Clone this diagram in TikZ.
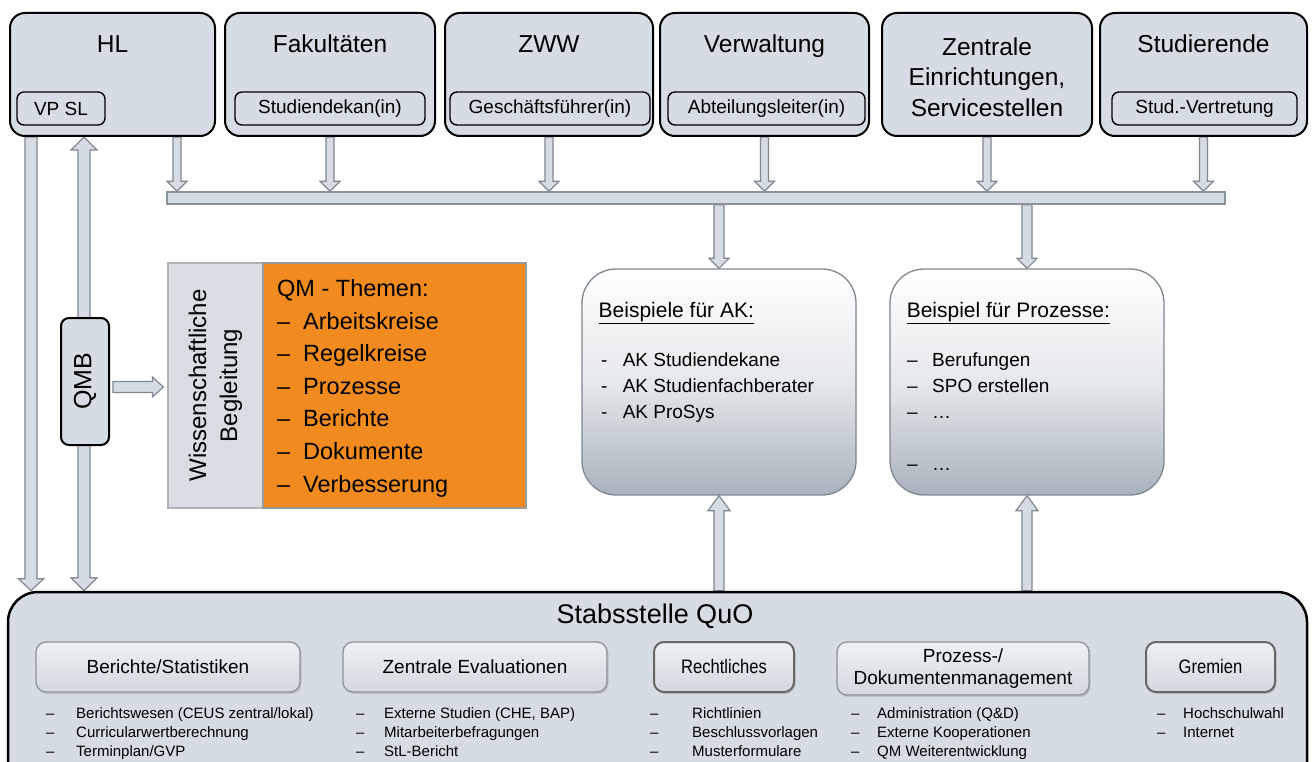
\documentclass[tikz,border=0pt]{standalone}
\usepackage{fontspec}
\setmainfont{Liberation Sans}
\newfontfamily\narrowf[FakeStretch=0.85]{Liberation Sans}
\usetikzlibrary{calc,shadows}
\pgfdeclarelayer{back}
\pgfdeclarelayer{bg}
\pgfsetlayers{back,bg,main}
\definecolor{boxfill}{HTML}{D6DCE3}
\definecolor{arrfill}{HTML}{D5DCE4}
\definecolor{arrline}{HTML}{7F8790}
\definecolor{orangeq}{HTML}{F28B1F}
\definecolor{wissfill}{HTML}{D8DDE3}
\definecolor{akbot}{HTML}{A9B2BD}
\definecolor{subline}{HTML}{8A929A}
\definecolor{subtop}{HTML}{EEF1F4}
\definecolor{subbot}{HTML}{D2D8DF}
\newcommand\fs[2]{\fontsize{#1}{#2}\selectfont}
% block arrow from #1 to #2: shaft half width #3, head half width #4, head length #5
\newcommand\barrow[5]{%
 \coordinate (bac) at ($(#2)!#5!(#1)$);
 \filldraw[blockarrow] ($(#1)!#3!-90:(#2)$) -- ($(bac)!#3!-90:(#2)$) -- ($(bac)!#4!-90:(#2)$) -- (#2) -- ($(bac)!#4!90:(#2)$) -- ($(bac)!#3!90:(#2)$) -- ($(#1)!#3!90:(#2)$) -- cycle;}
\newcommand\dbarrow[5]{%
 \coordinate (bac1) at ($(#1)!#5!(#2)$);
 \coordinate (bac2) at ($(#2)!#5!(#1)$);
 \filldraw[blockarrow] (#1) -- ($(bac1)!#4!90:(#2)$) -- ($(bac1)!#3!90:(#2)$) -- ($(bac2)!#3!90:(#2)$) -- ($(bac2)!#4!90:(#2)$) -- (#2) -- ($(bac2)!#4!-90:(#2)$) -- ($(bac2)!#3!-90:(#2)$) -- ($(bac1)!#3!-90:(#2)$) -- ($(bac1)!#4!-90:(#2)$) -- cycle;}
\tikzset{
 topbox/.style={draw=black, line width=2pt, fill=boxfill, rounded corners=15pt, inner sep=0pt, minimum height=123pt},
 subbox/.style={draw=black, line width=1.4pt, fill=boxfill, rounded corners=7pt, inner sep=0pt, minimum height=33pt, font=\fs{19}{22}},
 ttl/.style={anchor=base, inner sep=0pt, font=\fs{24.5}{30.5}},
 blockarrow/.style={draw=arrline, fill=arrfill, line width=1.2pt, line join=miter},
 barbox/.style={draw=subline, fill=arrfill, line width=1.4pt, inner sep=0pt},
 akbox/.style={draw=arrline, line width=1.3pt, rounded corners=34pt, top color=white, bottom color=akbot, middle color=akbot!30!white, inner sep=0pt, minimum width=274pt, minimum height=226pt},
 stabbox/.style={draw=black, line width=2.5pt, fill=boxfill, rounded corners=30pt, inner sep=0pt},
 qsub/.style={draw=subline, line width=1.3pt, rounded corners=10pt, top color=subtop, bottom color=subbot, drop shadow={shadow xshift=1.5pt, shadow yshift=-2pt, opacity=0.3}, inner sep=0pt, minimum height=50pt, font=\fs{19}{22}, align=center},
 qsubd/.style={qsub, draw=black!60, line width=2pt, font={\narrowf\fs{19.5}{22}}},
 txt/.style={anchor=base west, inner sep=0pt},
 listtxt/.style={txt, font=\fs{15}{19.2}},
}
\begin{document}
\begin{tikzpicture}[x=1pt,y=-1pt]
\begin{pgfonlayer}{back}\fill[white] (0,0) rectangle (1315,762);\end{pgfonlayer}
\useasboundingbox (0,0) rectangle (1315,762);

% top boxes
\node[topbox,minimum width=205pt] (hl) at (112.5,74.5) {};
\node[topbox,minimum width=210pt] (fak) at (330,74.5) {};
\node[topbox,minimum width=208pt] (zww) at (549,74.5) {};
\node[topbox,minimum width=209pt] (verw) at (764.5,74.5) {};
\node[topbox,minimum width=210pt] (zen) at (987,74.5) {};
\node[topbox,minimum width=207pt] (stu) at (1203.5,74.5) {};

\node[ttl] (thl) at ($(hl.north)+(0,41)$) {HL};
\node[ttl] (tfak) at ($(fak.north)+(0,41)$) {Fakultäten};
\node[ttl] (tzww) at ($(zww.north)+(0,41)$) {ZWW};
\node[ttl] (tverw) at ($(verw.north)+(0,41)$) {Verwaltung};
\node[ttl, anchor=north, align=center] (tzen) at ($(zen.north)+(0,25.5)$) {Zentrale\\Einrichtungen,\\Servicestellen};
\node[ttl] (tstu) at ($(stu.north)+(0,41)$) {Studierende};

\node[subbox,minimum width=88pt] (vpsl) at (61,108.5) {VP SL};
\node[subbox,minimum width=190pt] (sdek) at (330,108.5) {Studiendekan(in)};
\node[subbox,minimum width=200pt] (gf) at (550,108.5) {Geschäftsführer(in)};
\node[subbox,minimum width=197pt] (abt) at (766.5,108.5) {Abteilungsleiter(in)};
\node[subbox,minimum width=185pt] (sv) at (1204.5,108.5) {Stud.-Vertretung};

% bar
\node[barbox, minimum width=1058pt, minimum height=12pt] (bar) at (696,198) {};

% middle
\node[draw=black!30, line width=1.2pt, fill=wissfill, minimum width=95pt, minimum height=245pt, inner sep=0pt] (wiss) at (215.5,385.5)
 {\rotatebox{90}{\fs{24}{31}\begin{tabular}{@{}c@{}}Wissenschaftliche\\Begleitung\end{tabular}}};
\node[draw=black!40, line width=1.2pt, fill=orangeq, minimum width=263pt, minimum height=245pt, inner sep=0pt] (qm) at (394.5,385.5) {};
\node[txt, font=\fs{23.5}{32.6}] (qmt) at (277,296.5)
 {\begin{tabular}[t]{@{}p{26pt}@{}l@{}}\multicolumn{2}{@{}l@{}}{QM - Themen:}\\
 –&Arbeitskreise\\ –&Regelkreise\\ –&Prozesse\\ –&Berichte\\ –&Dokumente\\ –&Verbesserung\end{tabular}};

\node[draw=black, line width=2pt, fill=boxfill, rounded corners=8pt, minimum width=48pt, minimum height=127pt, inner sep=0pt] (qmb) at (85,381.5)
 {\rotatebox{90}{\fs{25}{28}QMB}};

\node[akbox] (ak) at (719,382) {};
\node[akbox] (pz) at (1027,382) {};
\node[txt, font=\fs{21}{24}] (akt) at (598.5,317) {\underline{Beispiele für AK:}};
\node[txt, font=\fs{19}{25.8}] (akl) at (601,366.5)
 {\begin{tabular}[t]{@{}p{21.6pt}@{}l@{}}-&AK Studiendekane\\ -&AK Studienfachberater\\ -&AK ProSys\end{tabular}};
\node[txt, font=\fs{21}{24}] (pzt) at (906.6,317) {\underline{Beispiel für Prozesse:}};
\node[txt, font=\fs{19}{26}] (pzl) at (907,366.5)
 {\begin{tabular}[t]{@{}p{25pt}@{}l@{}}–&Berufungen\\ –&SPO erstellen\\ –&…\\ &\\ –&…\end{tabular}};

% bottom
\node[stabbox, minimum width=1299pt, minimum height=210pt] (stab) at (657.5,697) {};
\node[anchor=base, inner sep=0pt, font=\fs{27}{30}] (stabt) at ($(stab.north)+(-2.5,33)$) {Stabsstelle QuO};

\node[qsub, minimum width=264pt] (ber) at (168,667) {Berichte/Statistiken};
\node[qsub, minimum width=264pt] (zev) at (475,667) {Zentrale Evaluationen};
\node[qsubd, minimum width=140pt] (rec) at (724,667) {Rechtliches};
\node[qsub, minimum width=252pt, minimum height=53pt] (pdm) at (963,668.5) {Prozess-/\\Dokumentenmanagement};
\node[qsubd, minimum width=129pt] (gre) at (1210.5,667) {Gremien};

\node[listtxt] (l1) at (46,718)
 {\begin{tabular}[t]{@{}p{30pt}@{}l@{}}–&Berichtswesen (CEUS zentral/lokal)\\ –&Curricularwertberechnung\\ –&Terminplan/GVP\end{tabular}};
\node[listtxt] (l2) at (356,718)
 {\begin{tabular}[t]{@{}p{28pt}@{}l@{}}–&Externe Studien (CHE, BAP)\\ –&Mitarbeiterbefragungen\\ –&StL-Bericht\end{tabular}};
\node[listtxt] (l3) at (650,718)
 {\begin{tabular}[t]{@{}p{42pt}@{}l@{}}–&Richtlinien\\ –&Beschlussvorlagen\\ –&Musterformulare\end{tabular}};
\node[listtxt] (l4) at (851,718)
 {\begin{tabular}[t]{@{}p{26pt}@{}l@{}}–&Administration (Q\&D)\\ –&Externe Kooperationen\\ –&QM Weiterentwicklung\end{tabular}};
\node[listtxt] (l5) at (1157,718)
 {\begin{tabular}[t]{@{}p{26pt}@{}l@{}}–&Hochschulwahl\\ –&Internet\end{tabular}};

% connectors
\begin{pgfonlayer}{bg}
 \coordinate (a1) at ($(hl.south)+(64.5,0)$);
 \coordinate (a1e) at (a1 |- bar.north);
 \barrow{a1}{a1e}{4pt}{10pt}{10pt}
 \foreach \n in {fak,zww,verw,zen,stu}{
  \coordinate (ae) at (\n.south |- bar.north);
  \barrow{\n.south}{ae}{4pt}{10pt}{10pt}
 }
 \coordinate (b1) at (ak.north |- bar.south);
 \barrow{b1}{ak.north}{5pt}{10pt}{10pt}
 \coordinate (b2) at (pz.north |- bar.south);
 \barrow{b2}{pz.north}{5pt}{10pt}{10pt}
 \coordinate (u1) at (ak.south |- stab.north);
 \barrow{u1}{ak.south}{5pt}{11pt}{15pt}
 \coordinate (u2) at (pz.south |- stab.north);
 \barrow{u2}{pz.south}{5pt}{11pt}{15pt}
 \coordinate (l1s) at ($(hl.south west)+(22,0)$);
 \coordinate (l1e) at (l1s |- stab.north);
 \barrow{l1s}{l1e}{6pt}{12.5pt}{12pt}
 \coordinate (l2s) at ($(hl.south west)+(75,0)$);
 \coordinate (l2e) at (l2s |- stab.north);
 \dbarrow{l2s}{l2e}{6pt}{13pt}{13pt}
 \coordinate (q1) at ($(qmb.east)+(3,5.5)$);
 \coordinate (q2) at ($(wiss.west)+(-4,1.5)$);
 \barrow{q1}{q2}{5.5pt}{10pt}{11pt}
\end{pgfonlayer}
\end{tikzpicture}
\end{document}
